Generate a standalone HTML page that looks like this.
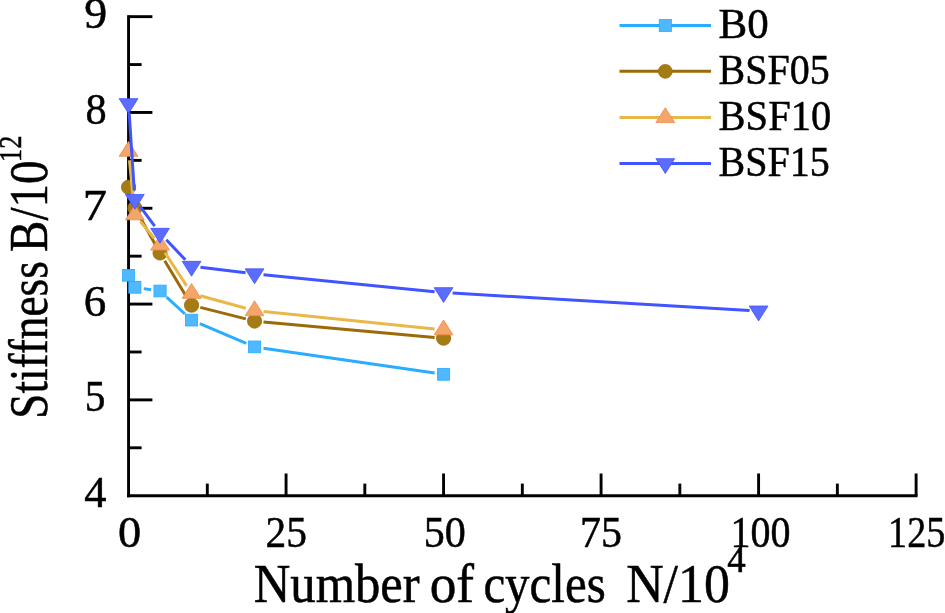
<!DOCTYPE html>
<html><head><meta charset="utf-8"><style>
html,body{margin:0;padding:0;background:#fff;overflow:hidden;}
svg{display:block;will-change:transform;}
text{font-family:"Liberation Serif",serif;fill:#000;stroke:#000;stroke-width:0.5px;}
</style></head><body>
<svg width="945" height="613" viewBox="0 0 945 613">
<line x1="128.55" y1="15.2" x2="128.55" y2="497.15" stroke="#000" stroke-width="2.9"/>
<line x1="127.10000000000001" y1="495.7" x2="917.55" y2="495.7" stroke="#000" stroke-width="2.9"/>
<line x1="128.55" y1="16.65" x2="152.4" y2="16.65" stroke="#000" stroke-width="2.9"/>
<line x1="128.55" y1="112.46" x2="152.4" y2="112.46" stroke="#000" stroke-width="2.9"/>
<line x1="128.55" y1="208.27" x2="152.4" y2="208.27" stroke="#000" stroke-width="2.9"/>
<line x1="128.55" y1="304.08" x2="152.4" y2="304.08" stroke="#000" stroke-width="2.9"/>
<line x1="128.55" y1="399.89" x2="152.4" y2="399.89" stroke="#000" stroke-width="2.9"/>
<line x1="128.55" y1="64.56" x2="141.6" y2="64.56" stroke="#000" stroke-width="2.9"/>
<line x1="128.55" y1="160.36" x2="141.6" y2="160.36" stroke="#000" stroke-width="2.9"/>
<line x1="128.55" y1="256.17" x2="141.6" y2="256.17" stroke="#000" stroke-width="2.9"/>
<line x1="128.55" y1="351.99" x2="141.6" y2="351.99" stroke="#000" stroke-width="2.9"/>
<line x1="128.55" y1="447.79" x2="141.6" y2="447.79" stroke="#000" stroke-width="2.9"/>
<line x1="286.06" y1="495.7" x2="286.06" y2="473.5" stroke="#000" stroke-width="2.9"/>
<line x1="443.57" y1="495.7" x2="443.57" y2="473.5" stroke="#000" stroke-width="2.9"/>
<line x1="601.08" y1="495.7" x2="601.08" y2="473.5" stroke="#000" stroke-width="2.9"/>
<line x1="758.59" y1="495.7" x2="758.59" y2="473.5" stroke="#000" stroke-width="2.9"/>
<line x1="916.10" y1="495.7" x2="916.10" y2="473.5" stroke="#000" stroke-width="2.9"/>
<line x1="207.31" y1="495.7" x2="207.31" y2="483.6" stroke="#000" stroke-width="2.9"/>
<line x1="364.81" y1="495.7" x2="364.81" y2="483.6" stroke="#000" stroke-width="2.9"/>
<line x1="522.33" y1="495.7" x2="522.33" y2="483.6" stroke="#000" stroke-width="2.9"/>
<line x1="679.84" y1="495.7" x2="679.84" y2="483.6" stroke="#000" stroke-width="2.9"/>
<line x1="837.35" y1="495.7" x2="837.35" y2="483.6" stroke="#000" stroke-width="2.9"/>
<text transform="translate(84.24,28.25) scale(1.0400,1)" font-size="44">9</text>
<text transform="translate(85.62,124.06) scale(0.9622,1)" font-size="44">8</text>
<text transform="translate(82.70,219.87) scale(1.0986,1)" font-size="44">7</text>
<text transform="translate(83.75,315.68) scale(1.0240,1)" font-size="44">6</text>
<text transform="translate(84.75,411.49) scale(0.9408,1)" font-size="44">5</text>
<text transform="translate(84.14,507.30) scale(1.0098,1)" font-size="44">4</text>
<text transform="translate(118.06,546.70) scale(1.0541,1)" font-size="44">0</text>
<text transform="translate(265.42,546.70) scale(0.9416,1)" font-size="44">25</text>
<text transform="translate(423.81,546.70) scale(0.9560,1)" font-size="44">50</text>
<text transform="translate(580.04,546.70) scale(0.9529,1)" font-size="44">75</text>
<text transform="translate(730.59,546.70) scale(0.9091,1)" font-size="44">100</text>
<text transform="translate(888.05,546.70) scale(0.8678,1)" font-size="44">125</text>
<line x1="143.75" y1="288.61" x2="151.15" y2="289.69" stroke="#2aacff" stroke-width="3.0"/>
<line x1="166.66" y1="297.11" x2="184.94" y2="313.99" stroke="#2aacff" stroke-width="3.0"/>
<line x1="199.84" y1="323.62" x2="246.28" y2="343.38" stroke="#2aacff" stroke-width="3.0"/>
<line x1="263.46" y1="348.19" x2="434.66" y2="373.01" stroke="#2aacff" stroke-width="3.0"/>
<rect x="122.45" y="269.40" width="12.2" height="11.8" fill="#50b8ff" stroke="#2aacff" stroke-width="0.8"/>
<rect x="128.75" y="281.40" width="12.2" height="11.8" fill="#50b8ff" stroke="#2aacff" stroke-width="0.8"/>
<rect x="153.95" y="285.10" width="12.2" height="11.8" fill="#50b8ff" stroke="#2aacff" stroke-width="0.8"/>
<rect x="185.45" y="314.20" width="12.2" height="11.8" fill="#50b8ff" stroke="#2aacff" stroke-width="0.8"/>
<rect x="248.46" y="341.00" width="12.2" height="11.8" fill="#50b8ff" stroke="#2aacff" stroke-width="0.8"/>
<rect x="437.47" y="368.40" width="12.2" height="11.8" fill="#50b8ff" stroke="#2aacff" stroke-width="0.8"/>
<line x1="131.16" y1="195.81" x2="132.24" y2="199.39" stroke="#9c6a08" stroke-width="3.0"/>
<line x1="139.25" y1="215.85" x2="155.65" y2="245.15" stroke="#9c6a08" stroke-width="3.0"/>
<line x1="164.70" y1="260.71" x2="186.90" y2="297.49" stroke="#9c6a08" stroke-width="3.0"/>
<line x1="200.28" y1="307.40" x2="245.83" y2="318.90" stroke="#9c6a08" stroke-width="3.0"/>
<line x1="263.52" y1="321.91" x2="434.61" y2="337.39" stroke="#9c6a08" stroke-width="3.0"/>
<circle cx="128.55" cy="187.20" r="7.1" fill="#a57b16" stroke="#9c6a08" stroke-width="0.8"/>
<circle cx="134.85" cy="208.00" r="7.1" fill="#a57b16" stroke="#9c6a08" stroke-width="0.8"/>
<circle cx="160.05" cy="253.00" r="7.1" fill="#a57b16" stroke="#9c6a08" stroke-width="0.8"/>
<circle cx="191.55" cy="305.20" r="7.1" fill="#a57b16" stroke="#9c6a08" stroke-width="0.8"/>
<circle cx="254.56" cy="321.10" r="7.1" fill="#a57b16" stroke="#9c6a08" stroke-width="0.8"/>
<circle cx="443.57" cy="338.20" r="7.1" fill="#a57b16" stroke="#9c6a08" stroke-width="0.8"/>
<line x1="129.44" y1="160.26" x2="133.96" y2="205.84" stroke="#e8b84a" stroke-width="3.0"/>
<line x1="140.61" y1="221.72" x2="154.30" y2="238.18" stroke="#e8b84a" stroke-width="3.0"/>
<line x1="164.97" y1="252.64" x2="186.64" y2="285.86" stroke="#e8b84a" stroke-width="3.0"/>
<line x1="200.23" y1="295.78" x2="245.88" y2="308.32" stroke="#e8b84a" stroke-width="3.0"/>
<line x1="263.51" y1="311.61" x2="434.62" y2="328.99" stroke="#e8b84a" stroke-width="3.0"/>
<polygon points="128.55,141.37 137.95,156.27 119.15,156.27" fill="#f4a66a" stroke="#f08a40" stroke-width="0.8"/>
<polygon points="134.85,204.87 144.25,219.77 125.45,219.77" fill="#f4a66a" stroke="#f08a40" stroke-width="0.8"/>
<polygon points="160.05,235.17 169.45,250.07 150.65,250.07" fill="#f4a66a" stroke="#f08a40" stroke-width="0.8"/>
<polygon points="191.55,283.47 200.95,298.37 182.15,298.37" fill="#f4a66a" stroke="#f08a40" stroke-width="0.8"/>
<polygon points="254.56,300.77 263.96,315.67 245.16,315.67" fill="#f4a66a" stroke="#f08a40" stroke-width="0.8"/>
<polygon points="443.57,319.97 452.97,334.87 434.17,334.87" fill="#f4a66a" stroke="#f08a40" stroke-width="0.8"/>
<line x1="129.14" y1="112.58" x2="134.26" y2="190.42" stroke="#4054ff" stroke-width="3.0"/>
<line x1="140.22" y1="206.62" x2="154.68" y2="226.08" stroke="#4054ff" stroke-width="3.0"/>
<line x1="166.27" y1="239.81" x2="185.34" y2="259.79" stroke="#4054ff" stroke-width="3.0"/>
<line x1="200.49" y1="267.36" x2="245.62" y2="272.74" stroke="#4054ff" stroke-width="3.0"/>
<line x1="263.51" y1="274.69" x2="434.61" y2="291.71" stroke="#4054ff" stroke-width="3.0"/>
<line x1="452.55" y1="293.12" x2="749.61" y2="310.48" stroke="#4054ff" stroke-width="3.0"/>
<polygon points="119.15,98.63 137.95,98.63 128.55,113.53" fill="#5c6cff" stroke="#4054ff" stroke-width="0.8"/>
<polygon points="125.45,194.43 144.25,194.43 134.85,209.33" fill="#5c6cff" stroke="#4054ff" stroke-width="0.8"/>
<polygon points="150.65,228.33 169.45,228.33 160.05,243.23" fill="#5c6cff" stroke="#4054ff" stroke-width="0.8"/>
<polygon points="182.15,261.33 200.95,261.33 191.55,276.23" fill="#5c6cff" stroke="#4054ff" stroke-width="0.8"/>
<polygon points="245.16,268.83 263.96,268.83 254.56,283.73" fill="#5c6cff" stroke="#4054ff" stroke-width="0.8"/>
<polygon points="434.17,287.63 452.97,287.63 443.57,302.53" fill="#5c6cff" stroke="#4054ff" stroke-width="0.8"/>
<polygon points="749.19,306.03 767.99,306.03 758.59,320.93" fill="#5c6cff" stroke="#4054ff" stroke-width="0.8"/>
<line x1="619.5" y1="25.5" x2="711" y2="25.5" stroke="#2aacff" stroke-width="3.0"/>
<rect x="659.20" y="19.50" width="12.2" height="12.0" fill="#50b8ff" stroke="#2aacff" stroke-width="0.8"/>
<text transform="translate(718.54,38.00) scale(1.0118,1)" font-size="42.5">B0</text>
<line x1="619.5" y1="71.35" x2="711" y2="71.35" stroke="#9c6a08" stroke-width="3.0"/>
<circle cx="665.30" cy="71.35" r="6.9" fill="#a57b16" stroke="#9c6a08" stroke-width="0.8"/>
<text transform="translate(718.62,84.00) scale(0.9409,1)" font-size="42.5">BSF05</text>
<line x1="619.5" y1="117.6" x2="711" y2="117.6" stroke="#e8b84a" stroke-width="3.0"/>
<polygon points="665.30,107.67 674.70,122.57 655.90,122.57" fill="#f4a66a" stroke="#f08a40" stroke-width="0.8"/>
<text transform="translate(718.61,130.30) scale(0.9527,1)" font-size="42.5">BSF10</text>
<line x1="619.5" y1="163.6" x2="711" y2="163.6" stroke="#4054ff" stroke-width="3.0"/>
<polygon points="655.90,158.63 674.70,158.63 665.30,173.53" fill="#5c6cff" stroke="#4054ff" stroke-width="0.8"/>
<text transform="translate(718.62,176.10) scale(0.9417,1)" font-size="42.5">BSF15</text>
<text transform="translate(253.79,602.00) scale(0.9377,1)" font-size="54">Number</text>
<text transform="translate(429.63,602.00) scale(0.9860,1)" font-size="54">of</text>
<text transform="translate(483.39,602.00) scale(0.9069,1)" font-size="54">cycles</text>
<text transform="translate(626.16,602.00) scale(0.9608,1)" font-size="54">N/10</text>
<text transform="translate(727.35,572.30) scale(0.9971,1)" font-size="37">4</text>
<text transform="translate(46.70,415.80) rotate(-90) scale(0.8378,1) translate(-3.50,0)" font-size="54">Stiffness</text>
<text transform="translate(46.70,250.60) rotate(-90) scale(0.8690,1) translate(-1.50,0)" font-size="54">B/10</text>
<text transform="translate(21.40,159.70) rotate(-90) scale(0.8218,1) translate(-2.75,0)" font-size="32">12</text>
</svg>
</body></html>
